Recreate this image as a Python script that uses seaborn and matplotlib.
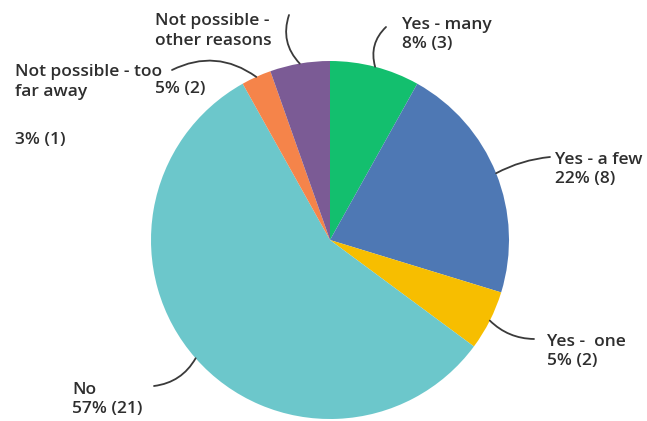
import numpy as np
import matplotlib
matplotlib.use("Agg")
import matplotlib.pyplot as plt
import seaborn as sns

# Survey answers and their counts
categories = ["Yes - many", "Yes - a few", "Yes -  one", "No",
              "Not possible - too\nfar away", "Not possible -\nother reasons"]
counts = [3, 8, 2, 21, 1, 2]
colors = ["#13BF6E", "#4E78B4", "#F7BE00", "#6CC7CB", "#F5844A", "#7B5B95"]

sns.set_theme(style="white")
plt.rcParams["font.family"] = ["Open Sans", "DejaVu Sans"]

W, H = 647, 421
fig = plt.figure(figsize=(W / 100, H / 100), dpi=100)
ax = fig.add_axes([0, 0, 1, 1])

cx, cy, r = 330, H - 240, 179
wedges, _ = ax.pie(counts, colors=colors, startangle=90, counterclock=False,
                   center=(cx, cy), radius=r, frame=True,
                   wedgeprops=dict(linewidth=0))
ax.set_xlim(0, W)
ax.set_ylim(0, H)
ax.set_aspect("equal")
ax.axis("off")

total = sum(counts)
pct = [f"{round(100 * c / total)}% ({c})" for c in counts]

txt = dict(fontsize=12.5, fontweight="semibold", color="#2e2e2e",
           ha="left", va="top", linespacing=1.24)
LINE = 20  # pixel step between stacked label lines

# name label position, value label position (pixels from top-left), leader end, curvature
layout = [
    ((402, 17), None, (386, 27), 0.3),
    ((555, 152), None, (550, 157), 0.1),
    ((547, 334), None, (534, 339), -0.2),
    ((72, 382), None, (154, 386), 0.25),
    ((15, 64), (15, 132), (172, 70), -0.3),
    ((155, 13), (155, 81), (289, 15), 0.3),
]

angle = 90.0
for i, (name, c) in enumerate(zip(categories, counts)):
    span = 360.0 * c / total
    mid = np.deg2rad(angle - span / 2)
    angle -= span
    px, py = cx + r * np.cos(mid), cy + r * np.sin(mid)
    (nx, ny), vpos, (lx, ly), rad = layout[i]
    if vpos is None:
        ax.text(nx, H - ny, f"{name}\n{pct[i]}", **txt)
    else:
        for k, line in enumerate(name.split("\n")):
            ax.text(nx, H - (ny + k * LINE), line, **txt)
        ax.text(vpos[0], H - vpos[1], pct[i], **txt)
    ax.annotate("", xy=(px, py), xytext=(lx, H - ly),
                arrowprops=dict(arrowstyle="-", color="#3a3a3a", lw=1.3,
                                shrinkA=0, shrinkB=0,
                                connectionstyle=f"arc3,rad={rad}"))

fig.savefig("out.png", dpi=100)
